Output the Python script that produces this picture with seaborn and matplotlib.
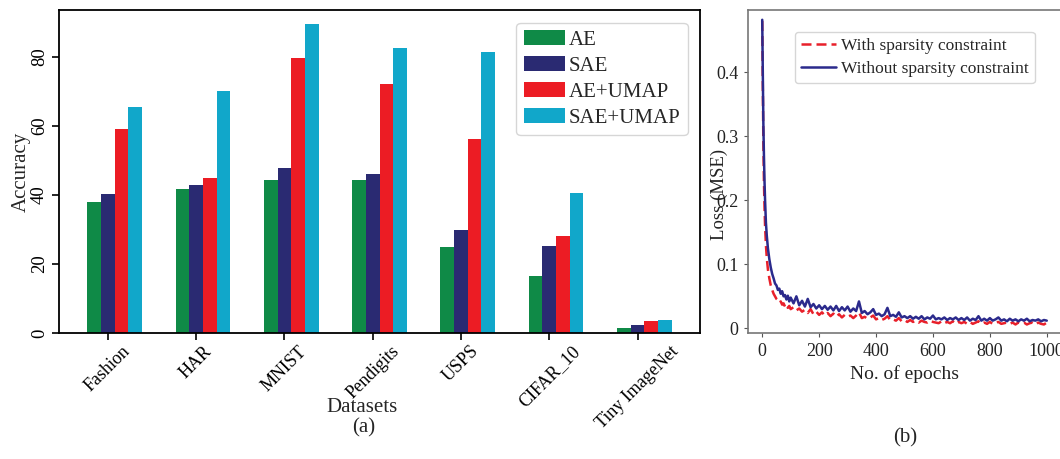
import numpy as np
import pandas as pd
import matplotlib
matplotlib.use("Agg")
import matplotlib.pyplot as plt
import seaborn as sns

# ---------------- data ----------------
datasets = ["Fashion", "HAR", "MNIST", "Pendigits", "USPS", "CIFAR_10", "Tiny ImageNet"]
methods = ["AE", "SAE", "AE+UMAP", "SAE+UMAP"]
acc_ae = [38.0, 41.7, 44.2, 44.2, 24.8, 16.5, 1.4]
acc_sae = [40.3, 42.8, 47.9, 46.1, 29.9, 25.2, 2.3]
acc_ae_umap = [59.0, 45.0, 79.8, 72.1, 56.2, 28.1, 3.5]
acc_sae_umap = [65.4, 70.1, 89.5, 82.7, 81.5, 40.7, 3.8]
bar_colors = ["#0f8a47", "#2a2a72", "#ec1c24", "#11a7ca"]

epochs = [0, 2, 4, 6, 8, 10, 13, 16, 20, 25, 30, 35, 40, 45, 50, 55, 60, 65, 70, 75,
          80, 85, 90, 95, 100] + list(range(110, 1001, 10))
loss_without = [0.482, 0.40, 0.32, 0.27, 0.23, 0.20, 0.165, 0.145, 0.125, 0.108, 0.095,
                0.085, 0.078, 0.070, 0.067, 0.060, 0.062, 0.054, 0.058, 0.050, 0.052,
                0.045, 0.051, 0.042, 0.048,
                0.039, 0.050, 0.036, 0.043, 0.034, 0.046, 0.033, 0.038, 0.031, 0.036,
                0.030, 0.035, 0.029, 0.034, 0.028, 0.035, 0.027, 0.033, 0.028, 0.034,
                0.026, 0.031, 0.027, 0.042, 0.024, 0.027, 0.022, 0.025, 0.030, 0.021,
                0.023, 0.019, 0.022, 0.032, 0.019, 0.021, 0.018, 0.025, 0.017, 0.019,
                0.016, 0.019, 0.015, 0.018, 0.015, 0.019, 0.014, 0.017, 0.015, 0.020,
                0.014, 0.016, 0.014, 0.017, 0.013, 0.016, 0.014, 0.017, 0.013, 0.016,
                0.013, 0.017, 0.012, 0.015, 0.013, 0.019, 0.012, 0.015, 0.012, 0.016,
                0.012, 0.014, 0.017, 0.012, 0.014, 0.011, 0.015, 0.012, 0.014, 0.011,
                0.014, 0.012, 0.015, 0.011, 0.013, 0.012, 0.014, 0.011, 0.013, 0.012]
loss_with = [0.480, 0.38, 0.29, 0.23, 0.19, 0.16, 0.13, 0.11, 0.092, 0.078, 0.067,
             0.060, 0.054, 0.050, 0.046, 0.044, 0.040, 0.042, 0.037, 0.039, 0.034,
             0.037, 0.032, 0.035, 0.030,
             0.033, 0.028, 0.031, 0.026, 0.029, 0.024, 0.030, 0.022, 0.026, 0.021,
             0.025, 0.020, 0.024, 0.019, 0.023, 0.018, 0.022, 0.017, 0.021, 0.018,
             0.020, 0.016, 0.020, 0.025, 0.016, 0.018, 0.015, 0.017, 0.020, 0.014,
             0.016, 0.013, 0.015, 0.019, 0.013, 0.014, 0.012, 0.016, 0.011, 0.013,
             0.010, 0.013, 0.010, 0.012, 0.009, 0.012, 0.010, 0.009, 0.012, 0.010,
             0.009, 0.008, 0.011, 0.008, 0.010, 0.008, 0.011, 0.007, 0.010, 0.008,
             0.010, 0.007, 0.010, 0.007, 0.009, 0.011, 0.007, 0.009, 0.007, 0.010,
             0.007, 0.009, 0.010, 0.007, 0.008, 0.009, 0.007, 0.009, 0.006, 0.009,
             0.007, 0.009, 0.006, 0.008, 0.009, 0.006, 0.009, 0.007, 0.006, 0.009]
loss_labels = ["With sparsity constraint", "Without sparsity constraint"]
loss_colors = ["#e8202a", "#2b2a8c"]

# ---------------- style ----------------
sns.set_style("ticks")
plt.rcParams["font.family"] = ["Liberation Serif", "DejaVu Serif"]

fig = plt.figure(figsize=(10.6, 4.59), dpi=100)
W, H = 1060, 459
ax1 = fig.add_axes([59 / W, (H - 333) / H, (700 - 59) / W, (333 - 10) / H])
ax2 = fig.add_axes([748 / W, (H - 333) / H, (1061 - 748) / W, (333 - 10) / H])

# ---------------- (a) bar chart ----------------
acc_table = {"AE": acc_ae, "SAE": acc_sae, "AE+UMAP": acc_ae_umap, "SAE+UMAP": acc_sae_umap}
df = pd.DataFrame({
    "Dataset": [d for m in methods for d in datasets],
    "Method": [m for m in methods for d in datasets],
    "Accuracy": [v for m in methods for v in acc_table[m]],
})
sns.barplot(data=df, x="Dataset", y="Accuracy", hue="Method", hue_order=methods,
            order=datasets, palette=bar_colors, saturation=1, width=0.62,
            linewidth=0, ax=ax1)
ax1.set_xlim(-0.63, 6.63)
ax1.set_ylim(0, 93.6)
nb = len(methods)
ax1.set_xticks(np.arange(len(datasets)) - 0.62 / nb / 2)
ax1.set_xticklabels(datasets, rotation=45, fontsize=13)
ax1.set_yticks([0, 20, 40, 60, 80])
ax1.set_yticklabels(["0", "20", "40", "60", "80"], rotation=90, va="center", fontsize=13.5)
ax1.set_ylabel("Accuracy", fontsize=15)
ax1.yaxis.set_label_coords(-0.044, 0.5)
ax1.set_xlabel("Datasets", fontsize=15)
ax1.xaxis.set_label_coords(0.473, -0.2)
for s in ax1.spines.values():
    s.set_color("black")
    s.set_linewidth(1.3)
ax1.tick_params(axis="both", colors="black", length=5, width=1.2, pad=2)
ax1.tick_params(axis="y", pad=3)
leg = ax1.legend(loc="upper right", fontsize=15, handlelength=2.0, handleheight=0.75,
                 labelspacing=0.3, handletextpad=0.15, borderpad=0.35,
                 borderaxespad=0.6, frameon=True, fancybox=True)
leg.get_frame().set_edgecolor("#cccccc")

# ---------------- (b) loss curves ----------------
dfl = pd.DataFrame({
    "Epoch": epochs * 2,
    "Loss": loss_with + loss_without,
    "Model": [loss_labels[0]] * len(epochs) + [loss_labels[1]] * len(epochs),
})
sns.lineplot(data=dfl, x="Epoch", y="Loss", hue="Model", style="Model",
             hue_order=loss_labels, style_order=loss_labels,
             palette=loss_colors, dashes=[(4, 2), ""], linewidth=1.8, ax=ax2)
ax2.set_xlim(-50, 1050)
ax2.set_ylim(-0.0073, 0.4973)
ax2.set_xticks([0, 200, 400, 600, 800, 1000])
ax2.set_yticks([0, 0.1, 0.2, 0.3, 0.4])
ax2.set_yticklabels(["0", "0.1", "0.2", "0.3", "0.4"])
ax2.tick_params(axis="both", labelsize=13, colors="#555555", labelcolor="#222222",
                length=3, width=0.8, pad=4)
ax2.set_xlabel("No. of epochs", fontsize=14, color="#222222")
ax2.set_ylabel("Loss (MSE)", fontsize=13.5, color="#222222")
ax2.yaxis.set_label_coords(-0.064, 0.43)
for s in ax2.spines.values():
    s.set_color("#777777")
    s.set_linewidth(1.2)
leg2 = ax2.legend(loc="upper left", bbox_to_anchor=(0.150, 0.932), fontsize=12.5,
                  handlelength=2.0, handletextpad=0.3, labelspacing=0.4,
                  borderpad=0.35, borderaxespad=0, frameon=True)
leg2.get_frame().set_edgecolor("#cccccc")

fig.text((59 + 700) / 2 / W - 0.015, 1 - 428 / H, "(a)", ha="center", va="center", fontsize=15)
fig.text(905 / W, 1 - 438 / H, "(b)", ha="center", va="center", fontsize=15)

fig.savefig("out.png", dpi=100)
